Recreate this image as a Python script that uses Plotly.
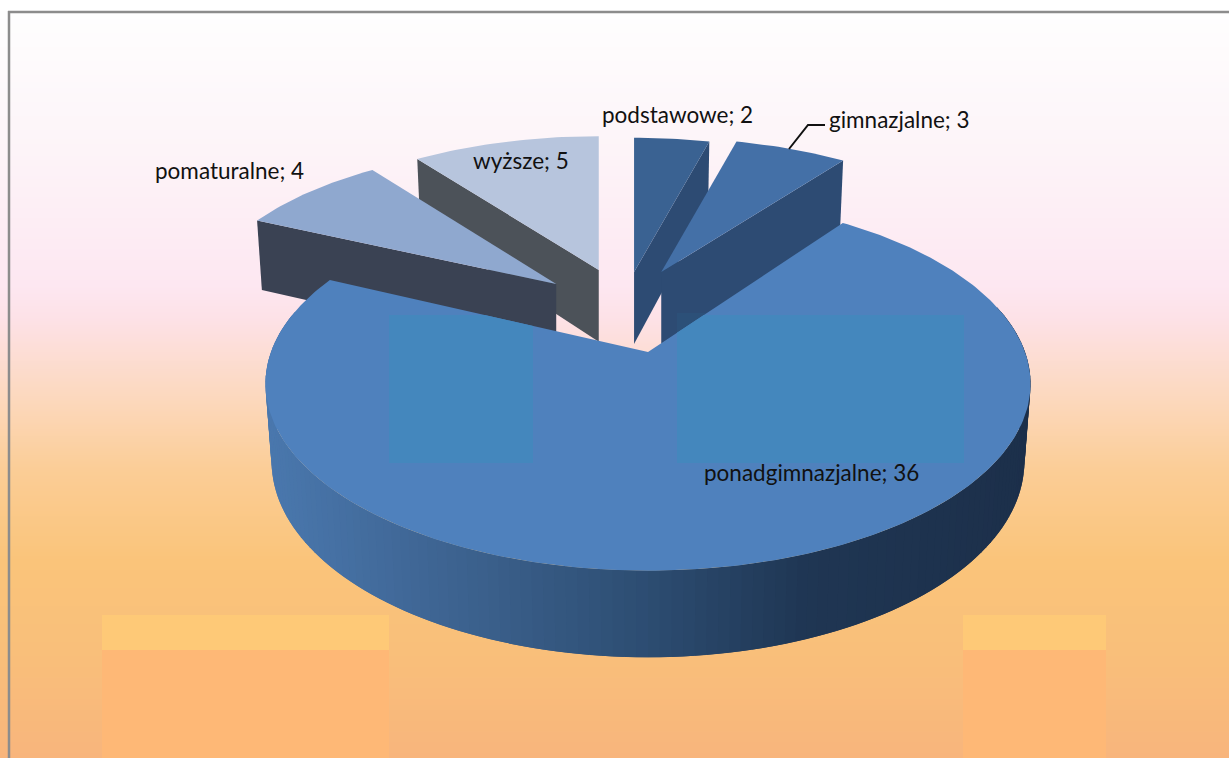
import numpy as np
import plotly.graph_objects as go

categories = ["podstawowe", "gimnazjalne", "ponadgimnazjalne", "pomaturalne", "wyższe"]
values = [2, 3, 36, 4, 5]

top_colors = ["#3a6292", "#4470a7", "#4f81bd", "#8fa8cf", "#b7c5dd"]
side_colors = ["#2d4b73", "#2d4b73", "#2d4b73", "#3a4253", "#4c5259"]
explode_x = [-0.04, 0.038, 0.0, -0.26, -0.1415]
explode_y = [0.476, 0.476, 0.0, 0.40, 0.49]
draw_order = [0, 1, 4, 3, 2]
cut_edge = ["end", "end", None, "start", "start"]

bg_pos = [12, 150, 285, 320, 400, 470, 560, 650, 758]
bg_col = ["#fefefe", "#fdf4f8", "#fde7f1", "#fde1e6", "#fcd8bc", "#fbcd96", "#fac47a", "#f9bf7a", "#f8b57c"]
wall_pos = [265, 450, 640, 800, 1032]
wall_rgb = [(74, 120, 174), (61, 99, 144), (45, 77, 114), (31, 54, 83), (28, 47, 74)]

CX, CY, RX, RY, K, H = 648, 352, 377, 181.5, 0.17, 76


def project(X, Y, lift=0.0, ox=0.0, oy=0.0):
    """X, Y are rim-relative unit-disc coordinates; (ox, oy) is the slice's explode offset."""
    X, Y = np.asarray(X, float), np.asarray(Y, float)
    s = 1 / (1 + K * (Y + oy))
    shift = RX * ox / (1 + K * oy)
    px = RX * X * s * (1 - 0.016 * lift) + shift
    return CX + px, CY - RY * (Y + oy) * s + lift * H * s ** 0.7


def clip_rect(xs, ys, x0, x1, y0, y1):
    pts = list(zip(xs, ys))
    for axis, bound, keep_gt in ((0, x0, True), (0, x1, False), (1, y0, True), (1, y1, False)):
        out = []
        inside = lambda p: p[axis] >= bound if keep_gt else p[axis] <= bound
        for i, p in enumerate(pts):
            q = pts[i - 1]
            if inside(p) != inside(q):
                t = (bound - q[axis]) / (p[axis] - q[axis])
                out.append((q[0] + t * (p[0] - q[0]), q[1] + t * (p[1] - q[1])))
            if inside(p):
                out.append(p)
        pts = out
    return [p[0] for p in pts], [p[1] for p in pts]


def poly(xs, ys, color):
    xs, ys = list(xs), list(ys)
    return go.Scatter(x=xs + xs[:1], y=ys + ys[:1], mode="lines", fill="toself", fillcolor=color,
                      line=dict(width=0), hoverinfo="skip", showlegend=False)


fig = go.Figure()

# page background gradient
rows = np.arange(12, 759, 2)
cs = []
for p, c in zip(bg_pos, bg_col):
    cs.append([(p - bg_pos[0]) / (bg_pos[-1] - bg_pos[0]), c])
fig.add_trace(go.Heatmap(x=[10, 1229], y=rows, z=[[r, r] for r in rows], zmin=bg_pos[0], zmax=bg_pos[-1],
                         colorscale=cs, showscale=False, hoverinfo="skip", zsmooth="best"))

# flat rectangular patches of the background
for x0, x1 in ((102, 389), (963, 1106)):
    fig.add_trace(poly([x0, x1, x1, x0], [615, 615, 650, 650], "#fec977"))
    fig.add_trace(poly([x0, x1, x1, x0], [650, 650, 758, 758], "#feb876"))

total = sum(values)
edges = np.cumsum([0] + values) / total * 2 * np.pi

for i in draw_order:
    a0, a1 = edges[i], edges[i + 1]
    ang = np.linspace(a0, a1, max(8, int((a1 - a0) * 60)))
    ox, oy = explode_x[i], explode_y[i]

    # visible cut face
    if cut_edge[i]:
        a = a1 if cut_edge[i] == "end" else a0
        ex, ey = np.sin(a), np.cos(a)
        p = [project(0, 0, 0, ox, oy), project(ex, ey, 0, ox, oy), project(ex, ey, 1, ox, oy), project(0, 0, 1, ox, oy)]
        sx, sy = [float(q[0]) for q in p], [float(q[1]) for q in p]
        fig.add_trace(poly(sx, sy, side_colors[i]))
        if i == 1:
            cx_, cy_ = clip_rect(sx, sy, 677, 964, 313, 463)
            if cx_:
                fig.add_trace(poly(cx_, cy_, "#2c5078"))

    # outer wall of the front-facing slice
    if values[i] == max(values):
        wall_ang = np.radians(np.arange(75, 285, 1.5))
        for j in range(len(wall_ang) - 2):
            qa = wall_ang[j:j + 3]
            x0_, y0_ = project(np.sin(qa), np.cos(qa))
            x1_, y1_ = project(np.sin(qa), np.cos(qa), 1)
            mx = float(np.mean([x0_.mean(), x1_.mean()]))
            col = [int(round(np.interp(mx, wall_pos, [w[k] for w in wall_rgb]))) for k in range(3)]
            fig.add_trace(poly(list(x0_) + list(x1_[::-1]), list(y0_) + list(y1_[::-1]),
                               f"rgb({col[0]},{col[1]},{col[2]})"))

    # top face
    fx, fy = project(np.r_[0.0, np.sin(ang)], np.r_[0.0, np.cos(ang)], 0, ox, oy)
    fig.add_trace(poly(fx, fy, top_colors[i]))
    if values[i] == max(values):
        for r in ((389, 533, 315, 463), (677, 964, 315, 463)):
            cx_, cy_ = clip_rect(list(fx), list(fy), *r)
            fig.add_trace(poly(cx_, cy_, "#4487bd"))

labels = [f"{c}; {v}" for c, v in zip(categories, values)]
label_pos = [(677, 114, "center"), (827, 119, "left"), (811.5, 472, "center"), (229.5, 170, "center"), (521, 160, "center")]
annotations = [dict(x=x, y=y, text=t, xanchor=a, yanchor="middle", showarrow=False,
                    font=dict(family="Lato, 'Open Sans', sans-serif", size=22.5, color="#111111"))
               for t, (x, y, a) in zip(labels, label_pos)]

shapes = [
    dict(type="line", x0=9, x1=9, y0=11, y1=758, line=dict(color="#8c8c8c", width=2.5)),
    dict(type="line", x0=8, x1=1229, y0=12, y1=12, line=dict(color="#8c8c8c", width=2.5)),
    dict(type="path", path="M 789 149 L 808 125 L 825 125", line=dict(color="#111111", width=2)),
]

fig.update_layout(
    width=1229, height=758, margin=dict(l=0, r=0, t=0, b=0),
    paper_bgcolor="white", plot_bgcolor="white", showlegend=False,
    xaxis=dict(range=[0, 1229], visible=False, fixedrange=True),
    yaxis=dict(range=[758, 0], visible=False, fixedrange=True),
    annotations=annotations, shapes=shapes,
)
fig.write_html("out.html", config=dict(displayModeBar=False),
               post_script="document.body.style.margin='0';document.body.style.overflow='hidden';")
